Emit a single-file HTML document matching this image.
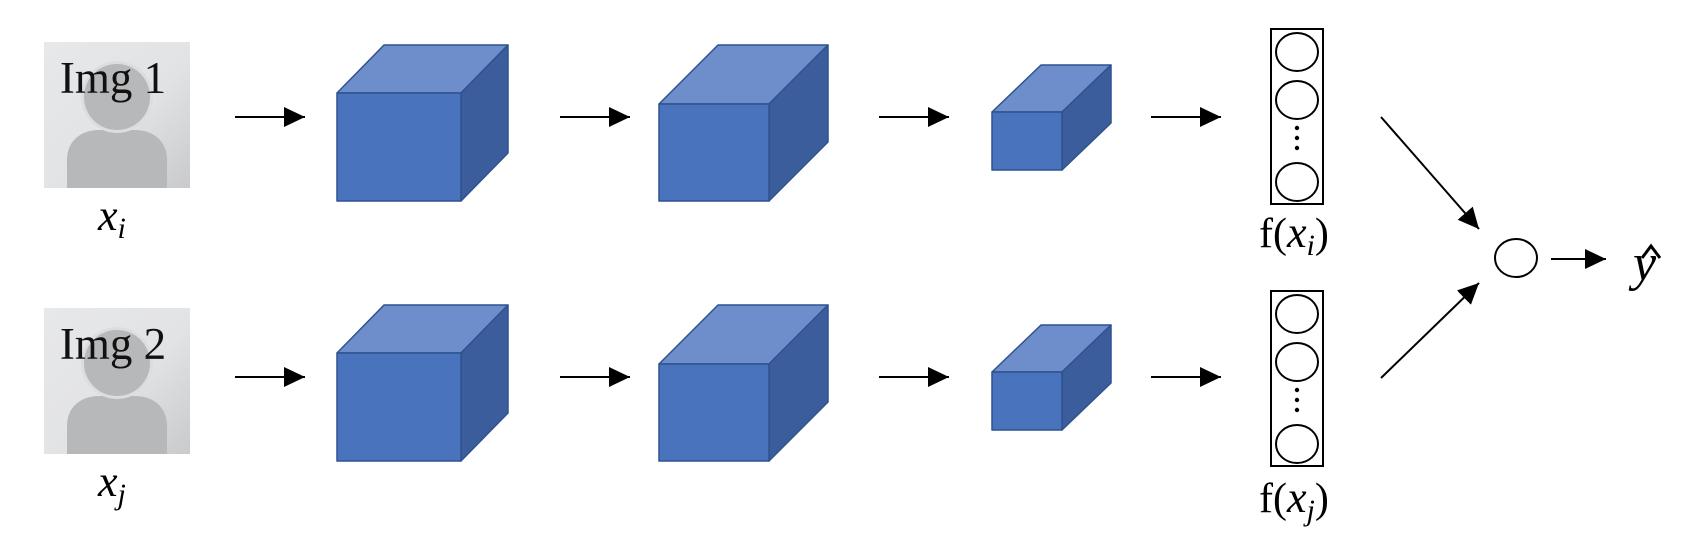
<!DOCTYPE html>
<html><head><meta charset="utf-8"><style>
html,body{margin:0;padding:0;background:#fff;}
svg{display:block;}
</style></head><body>
<svg width="1702" height="548" viewBox="0 0 1702 548" xmlns="http://www.w3.org/2000/svg">
<defs>
<linearGradient id="bg" x1="0" y1="0" x2="1" y2="1">
<stop offset="0" stop-color="#e7e8ea"/><stop offset="0.55" stop-color="#e2e3e5"/><stop offset="1" stop-color="#c9cacc"/>
</linearGradient>
<marker id="ah" markerWidth="21" markerHeight="20" refX="21" refY="10" orient="auto" markerUnits="userSpaceOnUse" viewBox="0 0 21 20">
<path d="M0,0 L21,10 L0,20 z" fill="#000"/>
</marker>
<g id="person">
<rect x="0" y="0" width="146" height="146" fill="url(#bg)"/>
<path d="M23,146 L23,118 C23,98 38,88 55,88 L91,88 C108,88 123,98 123,118 L123,146 z" fill="#b7b8ba"/>
<circle cx="73" cy="55" r="36" fill="#dcdddf"/>
<circle cx="73" cy="55" r="33" fill="#b7b8ba"/>
</g>
<g id="c1" stroke="#2f528f" stroke-width="1.5" stroke-linejoin="round">
<polygon points="337,93 384,45 508,45 461,93" fill="#6e8ecb"/>
<polygon points="461,93 508,45 508,153 461,201" fill="#3c5d9b"/>
<rect x="337" y="93" width="124" height="108" fill="#4a73bd"/>
</g>
<g id="c2" stroke="#2f528f" stroke-width="1.5" stroke-linejoin="round">
<polygon points="659,104 718,45 828,45 769,104" fill="#6e8ecb"/>
<polygon points="769,104 828,45 828,142 769,201" fill="#3c5d9b"/>
<rect x="659" y="104" width="110" height="97" fill="#4a73bd"/>
</g>
<g id="c3" stroke="#2f528f" stroke-width="1.5" stroke-linejoin="round">
<polygon points="992,112 1041,65 1111,65 1062,112" fill="#6e8ecb"/>
<polygon points="1062,112 1111,65 1111,123 1062,170" fill="#3c5d9b"/>
<rect x="992" y="112" width="70" height="58" fill="#4a73bd"/>
</g>
<g id="vec" fill="none" stroke="#000" stroke-width="2">
<rect x="1271" y="29" width="52" height="175"/>
<ellipse cx="1297" cy="52" rx="21" ry="19"/>
<ellipse cx="1297" cy="100" rx="21" ry="19"/>
<ellipse cx="1297" cy="182" rx="21" ry="19"/>
<circle cx="1297" cy="128" r="2.2" fill="#000" stroke="none"/>
<circle cx="1297" cy="138" r="2.2" fill="#000" stroke="none"/>
<circle cx="1297" cy="148" r="2.2" fill="#000" stroke="none"/>
</g>
<g id="arrows" stroke="#000" stroke-width="2" marker-end="url(#ah)">
<line x1="235" y1="117" x2="305" y2="117"/>
<line x1="560" y1="117" x2="630" y2="117"/>
<line x1="879" y1="117" x2="949" y2="117"/>
<line x1="1151" y1="117" x2="1221" y2="117"/>
</g>
</defs>

<use href="#person" x="44" y="42"/>
<use href="#person" x="44" y="308"/>
<g font-family="Liberation Serif, serif" font-size="45" fill="#111">
<text x="113" y="93" text-anchor="middle">Img 1</text>
<text x="113" y="359" text-anchor="middle">Img 2</text>
</g>
<use href="#c1"/><use href="#c2"/><use href="#c3"/>
<use href="#c1" y="260"/><use href="#c2" y="260"/><use href="#c3" y="260"/>
<use href="#vec"/><use href="#vec" y="262"/>
<use href="#arrows"/><use href="#arrows" y="260"/>

<g font-family="Liberation Serif, serif" fill="#000">
<text x="98" y="230" font-size="44" font-style="italic">x<tspan font-size="30" dy="8">i</tspan></text>
<text x="98" y="496" font-size="44" font-style="italic">x<tspan font-size="30" dy="8">j</tspan></text>
<text x="1259" y="247" font-size="42">f(<tspan font-style="italic" font-size="44">x</tspan><tspan font-size="30" font-style="italic" dy="8">i</tspan><tspan dy="-8">)</tspan></text>
<text x="1259" y="512" font-size="42">f(<tspan font-style="italic" font-size="44">x</tspan><tspan font-size="30" font-style="italic" dy="8">j</tspan><tspan dy="-8">)</tspan></text>
<text x="1633" y="280" font-size="52" font-style="italic">y</text>
</g>
<path d="M1642,258 L1651,246 L1660,258" fill="none" stroke="#000" stroke-width="3"/>

<ellipse cx="1516" cy="258" rx="21" ry="19" fill="none" stroke="#000" stroke-width="2"/>
<g stroke="#000" stroke-width="2" marker-end="url(#ah)">
<line x1="1381" y1="117" x2="1479" y2="229"/>
<line x1="1381" y1="378" x2="1479" y2="283"/>
<line x1="1551" y1="259" x2="1606" y2="259"/>
</g>
</svg>
</body></html>
